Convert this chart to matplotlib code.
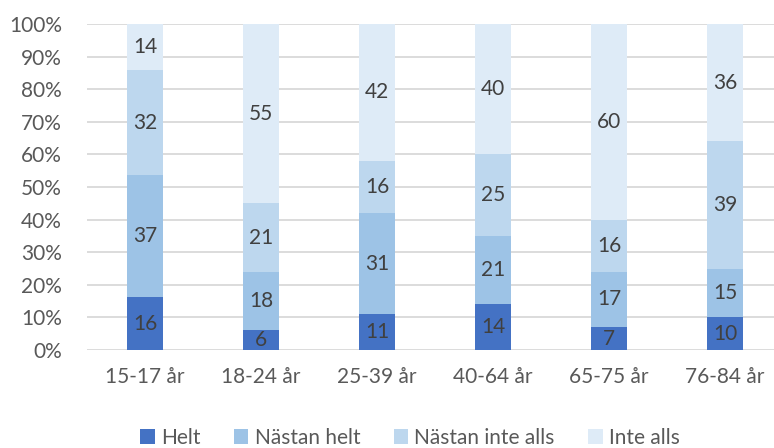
import numpy as np
import matplotlib.pyplot as plt
from matplotlib.ticker import PercentFormatter

plt.rcParams['font.family'] = ['Lato', 'DejaVu Sans']

kategorier = ["15-17 år", "18-24 år", "25-39 år", "40-64 år", "65-75 år", "76-84 år"]
serier = ["Helt", "Nästan helt", "Nästan inte alls", "Inte alls"]
helt = [16, 6, 11, 14, 7, 10]
nastan_helt = [37, 18, 31, 21, 17, 15]
nastan_inte = [32, 21, 16, 25, 16, 39]
inte_alls = [14, 55, 42, 40, 60, 36]
farger = ["#4472C4", "#9DC3E6", "#BDD7EE", "#DEEBF7"]

data = np.array([helt, nastan_helt, nastan_inte, inte_alls], dtype=float)
andel = data / data.sum(axis=0) * 100  # 100 % staplat som i Excel

fig = plt.figure(figsize=(7.74, 4.48), dpi=100)
ax = fig.add_axes([87 / 774, 98 / 448, (783 - 87) / 774, (350 - 24) / 448])

x = np.arange(len(kategorier))
botten = np.zeros(len(kategorier))
for i, namn in enumerate(serier):
    ax.bar(x, andel[i], 0.31, bottom=botten, color=farger[i], label=namn, zorder=3)
    for xi, b, h, v in zip(x, botten, andel[i], data[i]):
        ax.text(xi, b + h / 2, f"{v:.0f}", ha="center", va="center",
                fontsize=15, color="#404040", zorder=4)
    botten += andel[i]

ax.set_xlim(-0.5, 5.5)
ax.set_ylim(0, 100)
ax.set_yticks(np.arange(0, 101, 10))
ax.yaxis.set_major_formatter(PercentFormatter(decimals=0))
ax.set_xticks(x)
ax.set_xticklabels(kategorier)
ax.tick_params(length=0, labelsize=15, colors="#595959")
ax.tick_params(axis="x", pad=12)
ax.tick_params(axis="y", pad=18)
ax.grid(axis="y", color="#D9D9D9", linewidth=1.3, zorder=0)
for s in ax.spines.values():
    s.set_visible(False)

fig.legend(loc="center", bbox_to_anchor=(410 / 774, 1 - 438 / 448), ncol=4,
           frameon=False, fontsize=15, labelcolor="#595959", handlelength=0.7,
           handleheight=0.7, handletextpad=0.3, columnspacing=1.6)

fig.savefig("out.png", dpi=100)
